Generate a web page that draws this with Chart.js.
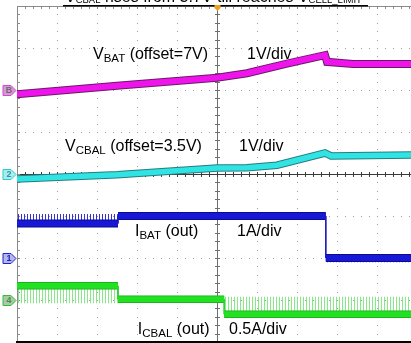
<!DOCTYPE html>
<html>
<head>
<meta charset="utf-8">
<script src="https://cdn.jsdelivr.net/npm/chart.js@4.4.0/dist/chart.umd.min.js"></script>
<style>
    html, body { margin: 0; padding: 0; background: #fff; }
    #wrap { width: 411px; height: 343px; }
</style>
</head>
<body>
<div id="wrap"><canvas id="scope" width="411" height="343"></canvas></div>
<script>
// Screen is 10 x 8 divisions, only 9.85 horizontal divs fit in the window
const SCREEN_X = 9.85;

// channel B : V_BAT  (offset 7V, 1V/div)
const vbatTime  = [0, 2.5, 5, 5.75, 6.75, 7.7, 7.75, 8.4, 9.85];
const vbatVolts = [6.90, 7.10, 7.29, 7.40, 7.63, 7.83, 7.67, 7.62, 7.62];

// channel 2 : V_CBAL (offset 3.5V, 1V/div)
const vcbalTime  = [0, 2.5, 5, 5.75, 6.5, 7.7, 7.85, 9.85];
const vcbalVolts = [3.38, 3.48, 3.64, 3.65, 3.71, 4.00, 3.93, 3.95];

// channel 1 : I_BAT (1A/div), ripple = tip of the switching spikes
const ibatTime   = [0, 2.525, 2.525, 7.72, 7.72, 9.85];
const ibatAmps   = [0.82, 0.82, 1.00, 1.00, 0.00, 0.00];
const ibatRipple = [1.05, 1.05, 1.03, 1.03, -0.10, -0.10];

// channel 4 : I_CBAL (0.5A/div)
const icbalTime   = [0, 2.525, 2.525, 5.18, 5.18, 9.85];
const icbalAmps   = [0.17, 0.17, 0.01, 0.01, -0.17, -0.17];
const icbalRipple = [-0.04, -0.04, 0.01, 0.01, 0.04, 0.04];

// channel settings: marker label, offset, units per div, marker position (div)
const chanNames   = ['B', '2', '1', '4'];
const chanOffsets = [7, 3.5, 0, 0];
const chanPerDiv  = [1, 1, 1, 0.5];
const chanMarkers = [2, 0, -2, -3];

// on-screen annotations: [main, subscript, rest]
const traceLabels = [['V', 'BAT', ' (offset=7V)'], ['V', 'CBAL', ' (offset=3.5V)'],
                     ['I', 'BAT', ' (out)'], ['I', 'CBAL', ' (out)']];
const scaleLabels = ['1V/div', '1V/div', '1A/div', '0.5A/div'];
const titleParts  = ['V', 'CBAL', ' rises from 3.7V till reaches ', 'V', 'CELL_LIMIT'];

const FONT = '"Liberation Sans", Arial, sans-serif';

function toDiv(ch, times, values) {
    return times.map((t, i) => ({
        x: t,
        y: chanMarkers[ch] + (values[i] - chanOffsets[ch]) / chanPerDiv[ch]
    }));
}

const canvas = document.getElementById('scope');
const ctx = canvas.getContext('2d');

function stripes(color, gap) {
    const c = document.createElement('canvas');
    c.width = gap; c.height = 4;
    const g = c.getContext('2d');
    g.fillStyle = color;
    g.fillRect(0, 0, 1, 4);
    return ctx.createPattern(c, 'repeat');
}

// thin line on vertical jumps (scope draws the edge as a 1px trace)
const thinJumps = (w) => ({
    borderWidth: c => c.p0.parsed.x === c.p1.parsed.x ? 1.2 : w
});

function trace(data, color, width, extra) {
    return Object.assign({
        data: data,
        borderColor: color,
        borderWidth: width,
        pointRadius: 0,
        tension: 0,
        fill: false,
        segment: thinJumps(width)
    }, extra || {});
}

const vbat = toDiv(0, vbatTime, vbatVolts);
const vcbal = toDiv(1, vcbalTime, vcbalVolts);
const ibat = toDiv(2, ibatTime, ibatAmps);
const icbal = toDiv(3, icbalTime, icbalAmps);

const datasets = [
    trace(vbat, '#f014ec', 6),                                   // 0
    trace(vcbal, '#30e4e4', 5.5),                                // 1
    trace(ibat, '#1818d8', 6),                                   // 2
    trace(icbal, '#22e022', 6),                                  // 3
    trace(vbat, '#6a1a66', 8),                                   // 4 dark edge
    trace(vcbal, '#257c80', 7.5),                                // 5
    trace(ibat, '#0c0c88', 8),                                   // 6
    trace(icbal, '#18a818', 7.5),                                // 7
    trace(toDiv(2, ibatTime, ibatRipple), 'rgba(0,0,0,0)', 0,
        { fill: 2, backgroundColor: stripes('#3434d0', 3) }),    // 8
    trace(toDiv(3, icbalTime, icbalRipple), 'rgba(0,0,0,0)', 0,
        { fill: 3, backgroundColor: stripes('#86e886', 3) })     // 9
];

const scopeGrid = {
    id: 'scopeGrid',
    beforeDatasetsDraw(chart) {
        const { ctx, chartArea: a, scales: { x, y } } = chart;
        const X = v => Math.round(x.getPixelForValue(v));
        const Y = v => Math.round(y.getPixelForValue(v));
        ctx.save();

        // dotted graticule
        ctx.fillStyle = '#9c9c9c';
        for (let i = 1; i <= 9; i++) {
            if (i === 5) continue;
            for (let k = 0; k <= 40; k++) ctx.fillRect(X(i), Y(-4 + k * 0.2), 1, 1);
        }
        for (let j = -3; j <= 3; j++) {
            if (j === 0) continue;
            for (let k = 0; k * 0.2 <= SCREEN_X; k++) ctx.fillRect(X(k * 0.2), Y(j), 1, 1);
        }

        // centre cross with minor ticks
        ctx.fillStyle = '#6e6e6e';
        ctx.fillRect(X(5), a.top, 1, a.bottom - a.top);
        for (let k = 0; k <= 40; k++) ctx.fillRect(X(5) - 2, Y(-4 + k * 0.2), 5, 1);
        ctx.fillStyle = '#3a3a3a';
        ctx.fillRect(a.left, Y(0), a.right - a.left, 1);
        for (let k = 0; k * 0.2 <= SCREEN_X; k++) ctx.fillRect(X(k * 0.2), Y(0) - 2, 1, 5);

        // frame with inward ticks
        ctx.fillStyle = '#8a8a8a';
        ctx.fillRect(a.left, a.top, 1, a.bottom - a.top);
        ctx.fillRect(a.left, a.top, a.right - a.left, 1);
        for (let k = 0; k <= 40; k++) ctx.fillRect(a.left, Y(-4 + k * 0.2), 3, 1);
        for (let k = 0; k * 0.2 <= SCREEN_X; k++) ctx.fillRect(X(k * 0.2), a.top, 1, 3);
        ctx.fillStyle = '#000';
        ctx.fillRect(a.left - 1, a.bottom - 1, a.right - a.left + 1, 2);
        ctx.restore();
    },
    afterDatasetsDraw(chart) {
        const { ctx, scales: { x, y } } = chart;
        ctx.save();
        ctx.fillStyle = '#000';
        ctx.textBaseline = 'alphabetic';

        const rich = (parts, px, py, big, small, drop) => {
            parts.forEach((p, i) => {
                const sub = i === 1 || i === 4;
                ctx.font = (sub ? small : big) + 'px ' + FONT;
                ctx.fillText(p, px, py + (sub ? drop : 0));
                px += ctx.measureText(p).width;
            });
        };

        const labelAt = [[1.9, 2.74], [1.2, 0.55], [2.95, -1.48], [3.02, -3.81]];
        const scaleAt = [[5.75, 2.74], [5.55, 0.55], [5.5, -1.48], [5.3, -3.81]];
        traceLabels.forEach((parts, i) => {
            rich(parts, x.getPixelForValue(labelAt[i][0]), y.getPixelForValue(labelAt[i][1]), 16, 11.5, 3);
            ctx.font = '16px ' + FONT;
            ctx.fillText(scaleLabels[i], x.getPixelForValue(scaleAt[i][0]), y.getPixelForValue(scaleAt[i][1]));
        });

        // title, mostly cut off by the top of the picture
        rich(titleParts, 65, 1.5, 16, 9.5, 1.5);
        ctx.fillStyle = '#000';
        ctx.fillRect(63, 5, 305, 1.5);

        // trigger position marker
        const tx = x.getPixelForValue(5) + 0.5;
        ctx.fillStyle = '#f0a020';
        ctx.beginPath();
        ctx.moveTo(tx - 3, 5); ctx.lineTo(tx + 3, 5); ctx.lineTo(tx + 3, 8);
        ctx.lineTo(tx, 11); ctx.lineTo(tx - 3, 8); ctx.closePath();
        ctx.fill();

        // channel ground markers
        const fills = ['#c9a0c6', '#a8ecee', '#b4b8e8', '#a8c8a8'];
        const edges = ['#e040e0', '#30c8d0', '#2020e0', '#30c030'];
        const inks  = ['#8a5a88', '#2a9aa0', '#2020c0', '#4a8a4a'];
        chanMarkers.forEach((m, i) => {
            const my = Math.round(y.getPixelForValue(m)) + 0.5;
            ctx.beginPath();
            ctx.moveTo(3, my - 5); ctx.lineTo(11, my - 5); ctx.lineTo(16, my);
            ctx.lineTo(11, my + 5); ctx.lineTo(3, my + 5); ctx.closePath();
            ctx.fillStyle = fills[i];
            ctx.fill();
            ctx.strokeStyle = edges[i];
            ctx.lineWidth = 1;
            ctx.stroke();
            ctx.fillStyle = inks[i];
            ctx.font = 'bold 9px ' + FONT;
            ctx.textAlign = 'center';
            ctx.textBaseline = 'middle';
            ctx.fillText(chanNames[i], 9, my + 0.5);
            ctx.textAlign = 'left';
            ctx.textBaseline = 'alphabetic';
        });
        ctx.restore();
    }
};

new Chart(ctx, {
    type: 'line',
    data: { datasets: datasets },
    options: {
        responsive: false,
        animation: false,
        devicePixelRatio: 1,
        layout: { padding: { left: 17, top: 6, right: 0, bottom: 1 } },
        plugins: {
            legend: { display: false },
            tooltip: { enabled: false },
            filler: { propagate: false }
        },
        scales: {
            x: { type: 'linear', min: 0, max: SCREEN_X, display: false },
            y: { type: 'linear', min: -4, max: 4, display: false }
        }
    },
    plugins: [scopeGrid]
});
</script>
</body>
</html>
